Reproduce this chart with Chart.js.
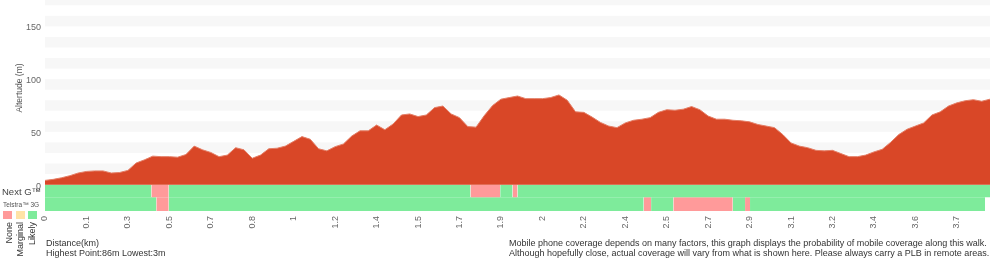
<!DOCTYPE html>
<html>
<head>
<meta charset="utf-8">
<script src="https://cdn.jsdelivr.net/npm/chart.js@4.4.1/dist/chart.umd.min.js"></script>
<style>
    body { margin: 0; background: #fff; font-family: "Liberation Sans", Arial, sans-serif; }
    #wrap { position: relative; width: 1000px; height: 260px; overflow: hidden; }
    #elevation-chart { position: absolute; left: 0; top: 0; }
    .txt { position: absolute; white-space: nowrap; color: #333; }
    .swatch { position: absolute; width: 9px; height: 8px; top: 211px; }
    .vlabel { position: absolute; top: 222px; writing-mode: vertical-rl; transform: rotate(180deg); font-size: 9px; line-height: 10px; color: #333; white-space: nowrap; }
</style>
</head>
<body>
<div id="wrap">
    <canvas id="elevation-chart" width="1000" height="260"></canvas>
    <div class="txt" id="y-title" style="left:19px; top:88px; font-size:8.5px; color:#555; transform: translate(-50%, -50%) rotate(-90deg);">Altertude (m)</div>
    <div class="txt" style="left:2px; top:186px; font-size:9.5px; color:#444;">Next G&trade;</div>
    <div class="txt" style="left:3px; top:201px; font-size:6.5px; color:#555;">Telstra&trade; 3G</div>
    <div class="swatch" style="left:3px; background:#ff9a9a;"></div>
    <div class="swatch" style="left:16px; background:#ffe3a6;"></div>
    <div class="swatch" style="left:28px; background:#7eeb9b;"></div>
    <div class="vlabel" style="left:4px;">None</div>
    <div class="vlabel" style="left:15px;">Marginal</div>
    <div class="vlabel" style="left:27px;">Likely</div>
    <div class="txt" style="left:46px; top:238px; font-size:9px; line-height:10px;">Distance(km)<br>Highest Point:86m Lowest:3m</div>
    <div class="txt" style="left:509px; top:238px; font-size:9px; line-height:10px;">Mobile phone coverage depends on many factors, this graph displays the probability of mobile coverage along this walk.<br>Although hopefully close, actual coverage will vary from what is shown here. Please always carry a PLB in remote areas.</div>
</div>
<script>
// profil trasy - nadmořská výška po stejných krocích
const altitude = [
    4, 5, 6.5, 8.5, 11, 12.5, 13, 13, 11, 11.5,
    13.5, 20.5, 23.5, 27, 26.5, 26.5, 26, 28.5, 36.5, 33,
    30.5, 26.5, 28, 35, 33, 25, 28, 34, 34.5, 36.5,
    41, 45.5, 43, 34, 32, 36, 38.5, 46, 51, 51,
    56.5, 52, 57.5, 66, 67, 64.5, 66, 73, 74.5, 67,
    63.5, 55, 54.5, 65.5, 75, 81, 82.5, 84, 81.5, 81.5,
    81.5, 82.5, 85, 80, 69, 68.5, 64, 59, 55.5, 54,
    58.5, 61, 62, 63.5, 68.5, 71, 70.5, 71.5, 74, 71,
    65, 62, 62, 61, 60.5, 59.5, 57, 55.5, 54, 47.5,
    39.5, 36.5, 35, 32.5, 32, 32.5, 29.5, 26.5, 26.5, 28,
    31, 33.5, 40, 47.5, 52.5, 55.5, 58.5, 66, 69, 74.5,
    77.5, 79.5, 80.5, 79, 81
];
const tickLabels = ['0', '0.1', '0.3', '0.5', '0.7', '0.8', '1', '1.2', '1.4', '1.5', '1.7', '1.9',
    '2', '2.2', '2.4', '2.5', '2.7', '2.9', '3.1', '3.2', '3.4', '3.6', '3.7'];
const pointsPerTick = 5;
const yTicks = [0, 50, 100, 150];
const totalKm = 3.82;

// pokrytí signálem: [od km, do km, úroveň]
const nextG = [
    [0, 0.43, 'likely'], [0.43, 0.50, 'none'], [0.50, 1.72, 'likely'], [1.72, 1.84, 'none'],
    [1.84, 1.89, 'likely'], [1.89, 1.91, 'none'], [1.91, 3.82, 'likely']
];
const telstra3G = [
    [0, 0.45, 'likely'], [0.45, 0.50, 'none'], [0.50, 2.42, 'likely'], [2.42, 2.45, 'none'],
    [2.45, 2.54, 'likely'], [2.54, 2.78, 'none'], [2.78, 2.83, 'likely'], [2.83, 2.85, 'none'],
    [2.85, 3.80, 'likely']
];

const levelColors = { none: '#ff9a9a', marginal: '#ffe3a6', likely: '#7eeb9b' };

function coverageDatasets(runs, top, bottom) {
    return runs.map(([from, to, level]) => ({
        type: 'line',
        xAxisID: 'xk',
        data: [{ x: from, y: top }, { x: to, y: top }],
        fill: { value: bottom },
        backgroundColor: levelColors[level],
        borderWidth: 0,
        pointRadius: 0
    }));
}

// střídavé pruhy na pozadí
const bandsPlugin = {
    id: 'bands',
    beforeDraw(chart) {
        const { ctx, chartArea: a, scales: { y } } = chart;
        ctx.save();
        ctx.fillStyle = '#f7f7f7';
        for (let v = 10; v < 180; v += 20) {
            const top = Math.max(y.getPixelForValue(v + 10), a.top);
            const bottom = y.getPixelForValue(v);
            ctx.fillRect(a.left, top, a.right - a.left, bottom - top);
        }
        ctx.restore();
    }
};

const labels = altitude.map((_, i) => i % pointsPerTick === 0 ? (tickLabels[i / pointsPerTick] || '') : '');

new Chart(document.getElementById('elevation-chart'), {
    type: 'line',
    data: {
        labels: labels,
        datasets: [{
            data: altitude,
            fill: 'origin',
            backgroundColor: '#d94727',
            borderColor: '#e47f67',
            borderWidth: 1,
            pointRadius: 0,
            tension: 0
        },
        ...coverageDatasets(nextG, 0, -12),
        ...coverageDatasets(telstra3G, -12, -25)]
    },
    options: {
        responsive: false,
        animation: false,
        events: [],
        layout: { padding: { left: 0, right: 10, top: 0, bottom: 0 } },
        plugins: { legend: { display: false }, tooltip: { enabled: false } },
        scales: {
            x: {
                type: 'category',
                offset: false,
                grid: { display: false, drawTicks: false },
                border: { display: false },
                ticks: {
                    autoSkip: false,
                    minRotation: 90,
                    maxRotation: 90,
                    padding: 5,
                    color: '#666',
                    font: { family: '"Liberation Sans", Arial, sans-serif', size: 9 }
                },
                afterFit(scale) {
                    scale.height = 49;
                    scale.paddingLeft = 0;
                    scale.paddingRight = 0;
                }
            },
            xk: {
                type: 'linear',
                display: false,
                min: 0,
                max: totalKm
            },
            y: {
                min: -25,
                max: 175,
                grid: { display: false, drawTicks: false },
                border: { display: false },
                ticks: {
                    padding: 4,
                    labelOffset: 1.5,
                    color: '#666',
                    font: { family: '"Liberation Sans", Arial, sans-serif', size: 9 }
                },
                afterBuildTicks(scale) {
                    scale.ticks = yTicks.map(v => ({ value: v }));
                },
                afterFit(scale) {
                    scale.width = 45;
                    scale.paddingTop = 0;
                    scale.paddingBottom = 0;
                }
            }
        }
    },
    plugins: [bandsPlugin]
});
</script>
</body>
</html>
